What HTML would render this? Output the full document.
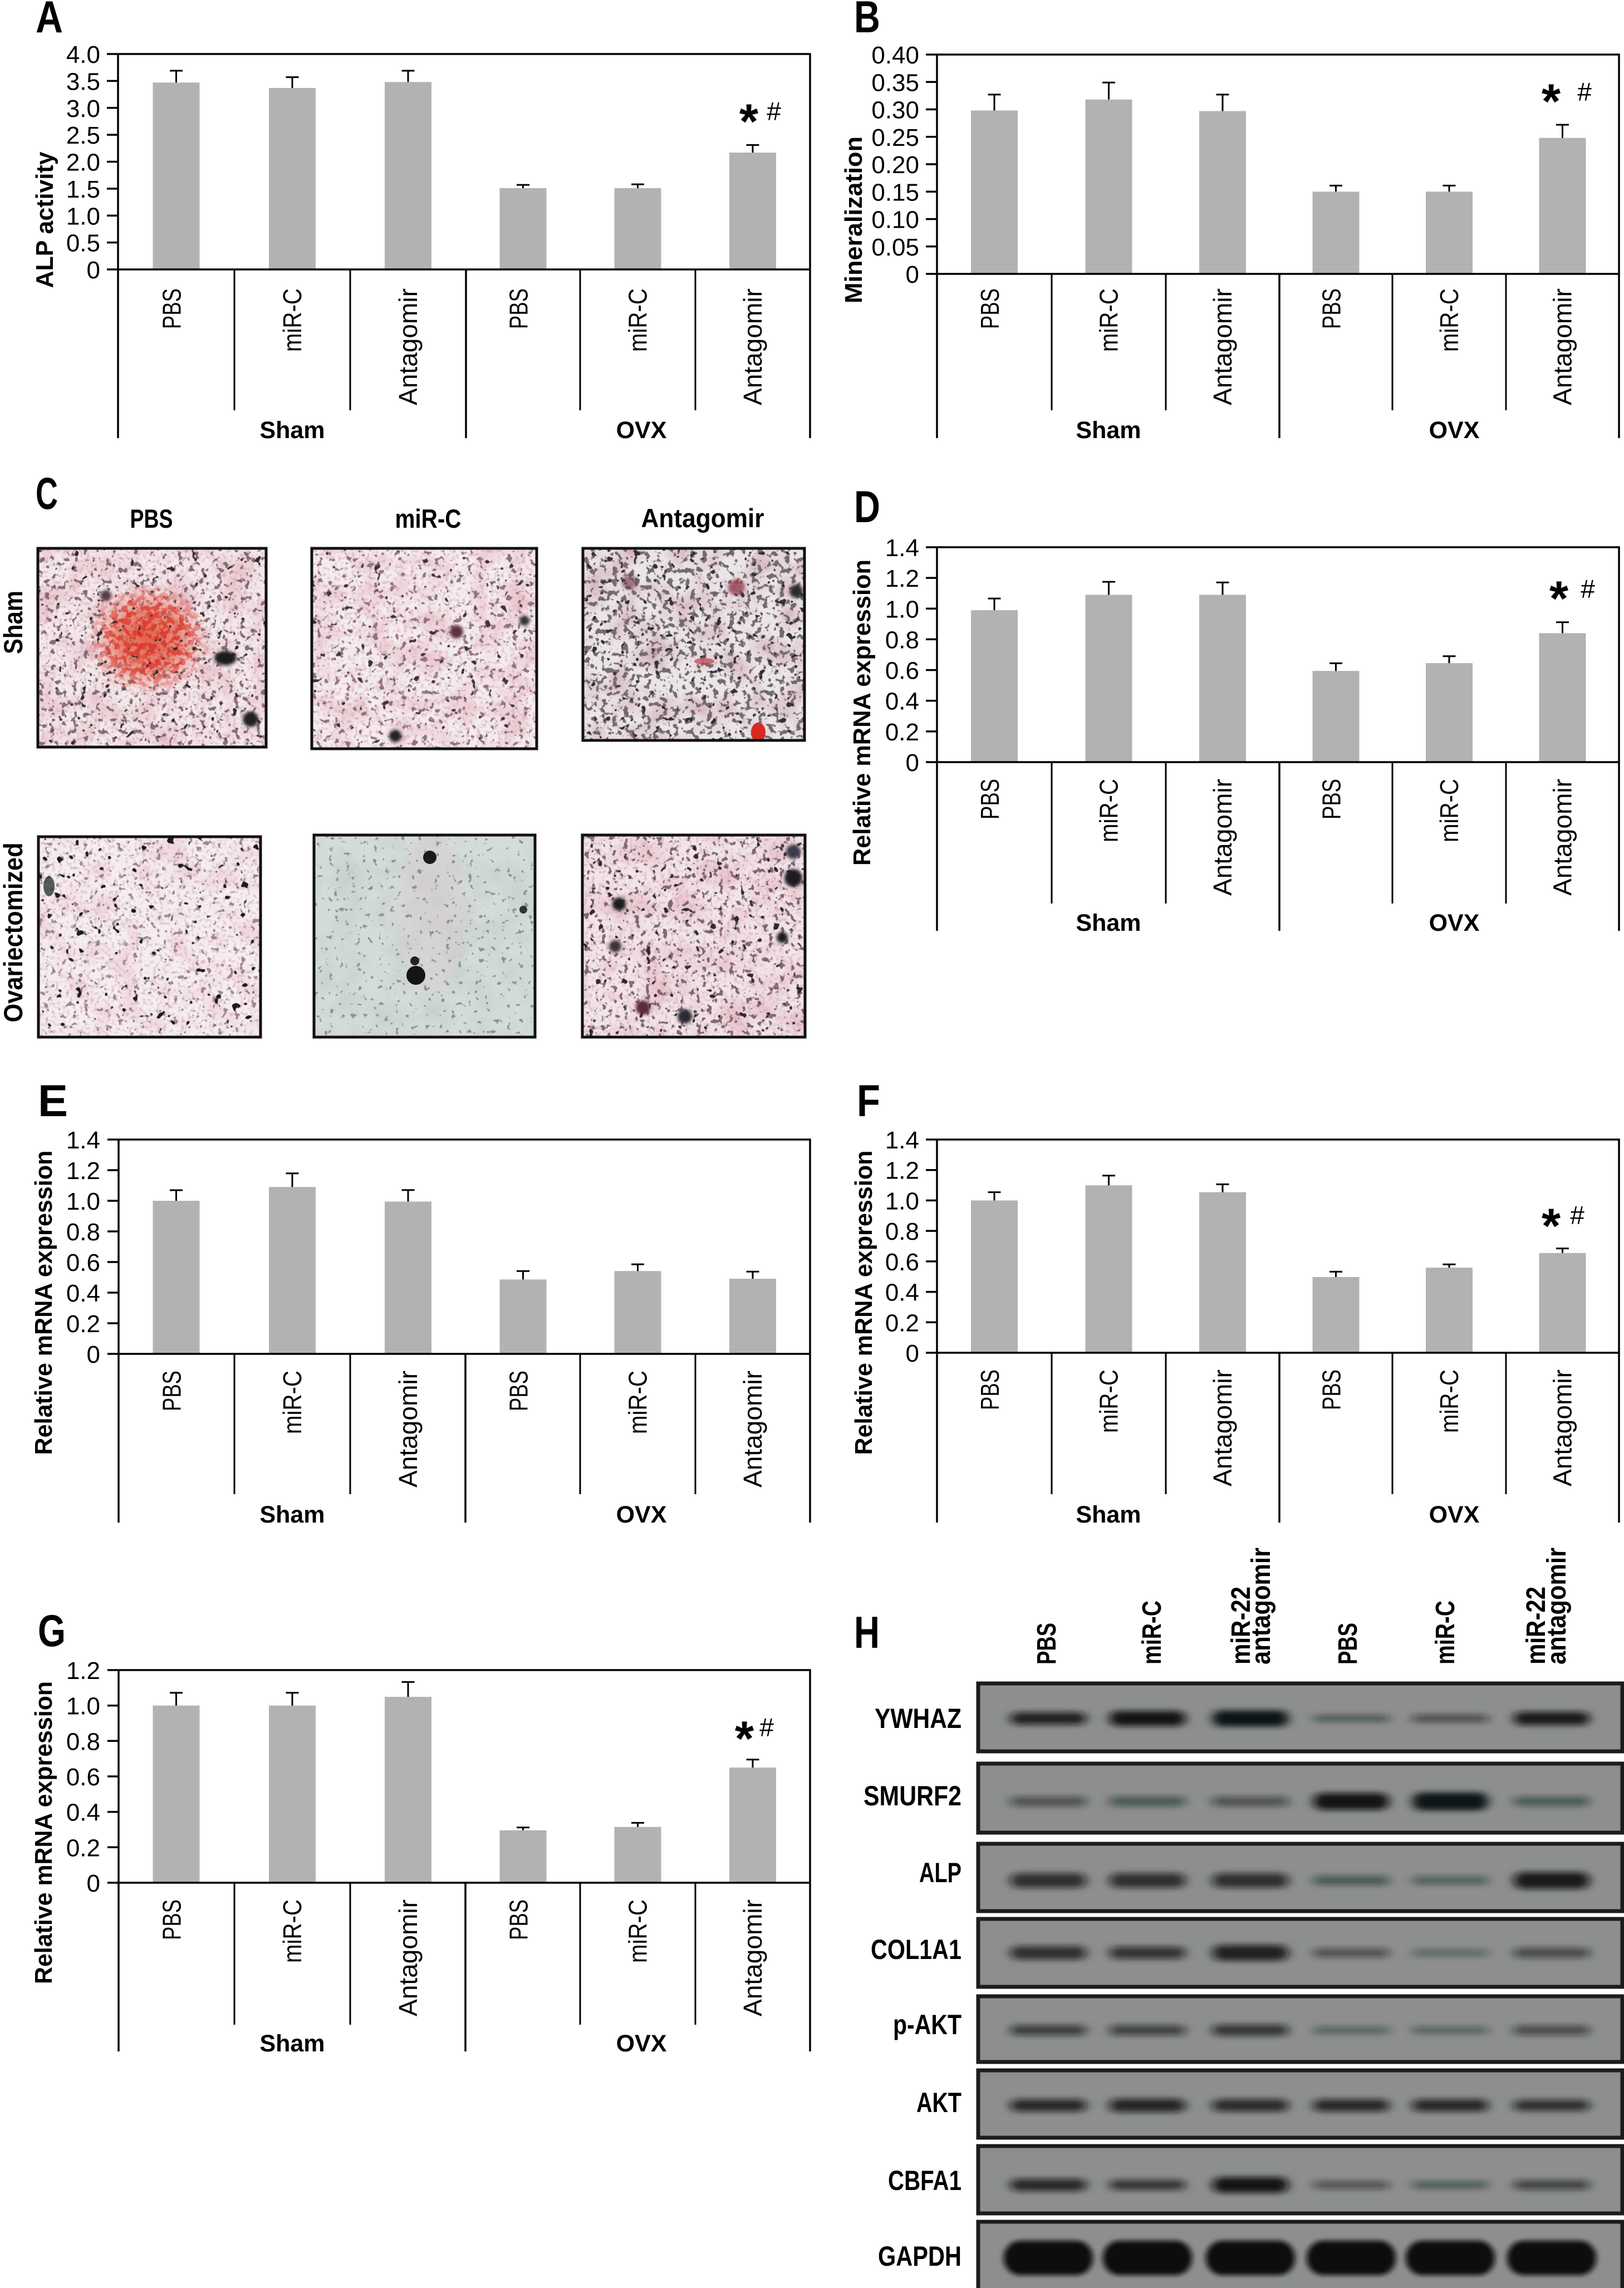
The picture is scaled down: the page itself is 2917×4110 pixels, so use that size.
<!DOCTYPE html>
<html><head><meta charset="utf-8"><style>
html,body{margin:0;padding:0;background:#fff;}
svg{display:block;}
.ax{stroke:#000;stroke-width:3.5;fill:none;}
.sp{stroke:#000;stroke-width:3;fill:none;}
.eb{stroke:#000;stroke-width:3;fill:none;}
.bar{fill:#b2b2b2;}
.tk{font-family:"Liberation Sans",sans-serif;font-size:44px;text-anchor:end;fill:#000;}
.cat{font-family:"Liberation Sans",sans-serif;font-size:46px;text-anchor:end;fill:#000;}
.yt{font-family:"Liberation Sans",sans-serif;font-weight:bold;font-size:44px;text-anchor:middle;fill:#000;}
.grp{font-family:"Liberation Sans",sans-serif;font-weight:bold;font-size:43px;text-anchor:middle;fill:#000;}
.lt{font-family:"Liberation Sans",sans-serif;font-weight:bold;font-size:81px;fill:#000;}
.st{font-family:"Liberation Sans",sans-serif;font-weight:bold;font-size:88px;text-anchor:middle;fill:#000;}
.hs{font-family:"Liberation Sans",sans-serif;font-size:46px;text-anchor:middle;fill:#000;}
.hd{font-family:"Liberation Sans",sans-serif;font-weight:bold;font-size:47px;text-anchor:middle;fill:#000;}
.rl{font-family:"Liberation Sans",sans-serif;font-weight:bold;font-size:50px;text-anchor:end;fill:#000;}
.ll{font-family:"Liberation Sans",sans-serif;font-weight:bold;font-size:48px;text-anchor:start;fill:#000;}
</style></head><body>
<svg width="2917" height="4110" viewBox="0 0 2917 4110" xmlns="http://www.w3.org/2000/svg">
<defs>
<filter id="mot1" x="0" y="0" width="1" height="1" color-interpolation-filters="sRGB"><feTurbulence type="fractalNoise" baseFrequency="0.02" numOctaves="3" seed="5"/><feColorMatrix type="matrix" values="0 0 0 0 0.88 0 0 0 0 0.6 0 0 0 0 0.66 1.2 0 0 0 -0.5"/></filter>
<filter id="mot4" x="0" y="0" width="1" height="1" color-interpolation-filters="sRGB"><feTurbulence type="fractalNoise" baseFrequency="0.02" numOctaves="3" seed="6"/><feColorMatrix type="matrix" values="0 0 0 0 0.9 0 0 0 0 0.66 0 0 0 0 0.72 1.0 0 0 0 -0.45"/></filter>
<filter id="mot2" x="0" y="0" width="1" height="1" color-interpolation-filters="sRGB"><feTurbulence type="fractalNoise" baseFrequency="0.02" numOctaves="3" seed="11"/><feColorMatrix type="matrix" values="0 0 0 0 0.88 0 0 0 0 0.62 0 0 0 0 0.68 1.2 0 0 0 -0.5"/></filter>
<filter id="motG" x="0" y="0" width="1" height="1" color-interpolation-filters="sRGB"><feTurbulence type="fractalNoise" baseFrequency="0.02" numOctaves="3" seed="21"/><feColorMatrix type="matrix" values="0 0 0 0 0.8 0 0 0 0 0.62 0 0 0 0 0.68 1.5 0 0 0 -0.6"/></filter>
<filter id="motB" x="0" y="0" width="1" height="1" color-interpolation-filters="sRGB"><feTurbulence type="fractalNoise" baseFrequency="0.02" numOctaves="3" seed="31"/><feColorMatrix type="matrix" values="0 0 0 0 0.76 0 0 0 0 0.8 0 0 0 0 0.79 1.6 0 0 0 -0.6"/></filter>
<filter id="grain" x="0" y="0" width="1" height="1" color-interpolation-filters="sRGB"><feTurbulence type="fractalNoise" baseFrequency="0.16" numOctaves="1" seed="3"/><feColorMatrix type="matrix" values="0 0 0 0 0.82 0 0 0 0 0.66 0 0 0 0 0.7 2.5 0 0 0 -1.25"/></filter>
<filter id="m1" x="0" y="0" width="1" height="1" color-interpolation-filters="sRGB"><feTurbulence type="fractalNoise" baseFrequency="0.1" numOctaves="2" seed="2"/><feColorMatrix type="matrix" values="0 0 0 0 0.52 0 0 0 0 0.42 0 0 0 0 0.47 -12 0 0 0 4.8"/></filter>
<filter id="d1" x="0" y="0" width="1" height="1" color-interpolation-filters="sRGB"><feTurbulence type="fractalNoise" baseFrequency="0.07" numOctaves="2" seed="4"/><feColorMatrix type="matrix" values="0 0 0 0 0.2 0 0 0 0 0.17 0 0 0 0 0.2 -16 0 0 0 4.8"/></filter>
<filter id="m2" x="0" y="0" width="1" height="1" color-interpolation-filters="sRGB"><feTurbulence type="fractalNoise" baseFrequency="0.1" numOctaves="2" seed="8"/><feColorMatrix type="matrix" values="0 0 0 0 0.58 0 0 0 0 0.45 0 0 0 0 0.5 -12 0 0 0 4.6"/></filter>
<filter id="d2" x="0" y="0" width="1" height="1" color-interpolation-filters="sRGB"><feTurbulence type="fractalNoise" baseFrequency="0.07" numOctaves="2" seed="9"/><feColorMatrix type="matrix" values="0 0 0 0 0.25 0 0 0 0 0.2 0 0 0 0 0.23 -16 0 0 0 4.7"/></filter>
<filter id="m3" x="0" y="0" width="1" height="1" color-interpolation-filters="sRGB"><feTurbulence type="fractalNoise" baseFrequency="0.1" numOctaves="2" seed="13"/><feColorMatrix type="matrix" values="0 0 0 0 0.45 0 0 0 0 0.42 0 0 0 0 0.44 -12 0 0 0 5.4"/></filter>
<filter id="d3" x="0" y="0" width="1" height="1" color-interpolation-filters="sRGB"><feTurbulence type="fractalNoise" baseFrequency="0.08" numOctaves="2" seed="14"/><feColorMatrix type="matrix" values="0 0 0 0 0.2 0 0 0 0 0.19 0 0 0 0 0.2 -16 0 0 0 5.3"/></filter>
<filter id="m4" x="0" y="0" width="1" height="1" color-interpolation-filters="sRGB"><feTurbulence type="fractalNoise" baseFrequency="0.1" numOctaves="2" seed="17"/><feColorMatrix type="matrix" values="0 0 0 0 0.62 0 0 0 0 0.52 0 0 0 0 0.56 -12 0 0 0 4.4"/></filter>
<filter id="d4" x="0" y="0" width="1" height="1" color-interpolation-filters="sRGB"><feTurbulence type="fractalNoise" baseFrequency="0.06" numOctaves="2" seed="18"/><feColorMatrix type="matrix" values="0 0 0 0 0.1 0 0 0 0 0.1 0 0 0 0 0.1 -20 0 0 0 5.8"/></filter>
<filter id="m5" x="0" y="0" width="1" height="1" color-interpolation-filters="sRGB"><feTurbulence type="fractalNoise" baseFrequency="0.1" numOctaves="2" seed="23"/><feColorMatrix type="matrix" values="0 0 0 0 0.55 0 0 0 0 0.58 0 0 0 0 0.57 -12 0 0 0 4.0"/></filter>
<filter id="m6" x="0" y="0" width="1" height="1" color-interpolation-filters="sRGB"><feTurbulence type="fractalNoise" baseFrequency="0.1" numOctaves="2" seed="29"/><feColorMatrix type="matrix" values="0 0 0 0 0.5 0 0 0 0 0.4 0 0 0 0 0.45 -12 0 0 0 4.8"/></filter>
<filter id="d6" x="0" y="0" width="1" height="1" color-interpolation-filters="sRGB"><feTurbulence type="fractalNoise" baseFrequency="0.07" numOctaves="2" seed="30"/><feColorMatrix type="matrix" values="0 0 0 0 0.18 0 0 0 0 0.16 0 0 0 0 0.19 -16 0 0 0 4.9"/></filter>
<filter id="redspk" x="0" y="0" width="1" height="1" color-interpolation-filters="sRGB"><feTurbulence type="fractalNoise" baseFrequency="0.09" numOctaves="2" seed="7"/><feColorMatrix type="matrix" values="0 0 0 0 0.86 0 0 0 0 0.22 0 0 0 0 0.18 8 0 0 0 -3.6"/></filter>
<filter id="bl" x="-0.3" y="-2" width="1.6" height="5"><feGaussianBlur stdDeviation="9 5"/></filter>
<filter id="bl2" x="-0.3" y="-1" width="1.6" height="3"><feGaussianBlur stdDeviation="5 4"/></filter>
<filter id="sb" x="-1" y="-1" width="3" height="3"><feGaussianBlur stdDeviation="3"/></filter>
<filter id="sb8" x="-1" y="-1" width="3" height="3"><feGaussianBlur stdDeviation="10"/></filter>
<radialGradient id="rb" cx="0.5" cy="0.5" r="0.5"><stop offset="0" stop-color="#e4553c" stop-opacity="0.9"/><stop offset="0.55" stop-color="#e66a52" stop-opacity="0.7"/><stop offset="1" stop-color="#ee9a90" stop-opacity="0"/></radialGradient>
<radialGradient id="rbw" cx="0.5" cy="0.5" r="0.5"><stop offset="0" stop-color="#fff"/><stop offset="0.6" stop-color="#bbb"/><stop offset="1" stop-color="#000"/></radialGradient>
<mask id="mb" maskUnits="userSpaceOnUse" x="0" y="900" width="600" height="500"><ellipse cx="267" cy="1148" rx="115" ry="105" fill="url(#rbw)"/></mask>
<clipPath id="c1"><rect x="68" y="985" width="410" height="357"/></clipPath>
<clipPath id="c3"><rect x="1047" y="985" width="398" height="345"/></clipPath>
<clipPath id="c5"><rect x="564" y="1500" width="397" height="363"/></clipPath>
<clipPath id="c6"><rect x="1046" y="1500" width="400" height="363"/></clipPath>
</defs>
<rect x="0" y="0" width="2917" height="4110" fill="#fff"/>

<!-- ============ PANEL A ============ -->
<text class="lt" x="64" y="58" textLength="49" lengthAdjust="spacingAndGlyphs">A</text>
<rect class="bar" x="274.5" y="148.3" width="84" height="335.7"/>
<rect class="bar" x="483" y="158" width="84" height="326"/>
<rect class="bar" x="691" y="147.3" width="84" height="336.7"/>
<rect class="bar" x="897.5" y="337.9" width="84" height="146.1"/>
<rect class="bar" x="1103.5" y="337.9" width="84" height="146.1"/>
<rect class="bar" x="1310" y="274.1" width="84" height="209.9"/>
<path class="eb" d="M316.5 148.3V127M305 127H328M525 158V138.6M513.5 138.6H536.5M733 147.3V127M721.5 127H744.5M939.5 337.9V332.1M928 332.1H951M1145.5 337.9V331.1M1134 331.1H1157M1352 274.1V260.5M1340.5 260.5H1363.5"/>
<path class="ax" d="M192 97H1455V787M192 484H1455M212 97V787M837 484V787M192 435.6H212M192 387.3H212M192 338.9H212M192 290.5H212M192 242.1H212M192 193.8H212M192 145.4H212"/>
<path class="sp" d="M421 484V737M629 484V737M1042 484V737M1249 484V737"/>
<text class="tk" x="180" y="500">0</text>
<text class="tk" x="180" y="451.6">0.5</text>
<text class="tk" x="180" y="403.3">1.0</text>
<text class="tk" x="180" y="354.9">1.5</text>
<text class="tk" x="180" y="306.5">2.0</text>
<text class="tk" x="180" y="258.1">2.5</text>
<text class="tk" x="180" y="209.8">3.0</text>
<text class="tk" x="180" y="161.4">3.5</text>
<text class="tk" x="180" y="113">4.0</text>
<text class="cat" transform="translate(324.5,518) rotate(-90)" textLength="73" lengthAdjust="spacingAndGlyphs">PBS</text>
<text class="cat" transform="translate(541,518) rotate(-90)" textLength="114" lengthAdjust="spacingAndGlyphs">miR-C</text>
<text class="cat" transform="translate(749,518) rotate(-90)" textLength="210" lengthAdjust="spacingAndGlyphs">Antagomir</text>
<text class="cat" transform="translate(947.5,518) rotate(-90)" textLength="73" lengthAdjust="spacingAndGlyphs">PBS</text>
<text class="cat" transform="translate(1161.5,518) rotate(-90)" textLength="114" lengthAdjust="spacingAndGlyphs">miR-C</text>
<text class="cat" transform="translate(1368,518) rotate(-90)" textLength="210" lengthAdjust="spacingAndGlyphs">Antagomir</text>
<text class="grp" x="525" y="787">Sham</text>
<text class="grp" x="1152" y="787">OVX</text>
<text class="yt" transform="translate(95,395) rotate(-90)" textLength="245" lengthAdjust="spacingAndGlyphs">ALP activity</text>
<text class="st" x="1345" y="248">*</text>
<text class="hs" x="1390" y="216">#</text>

<!-- ============ PANEL B ============ -->
<text class="lt" x="1534" y="58" textLength="47" lengthAdjust="spacingAndGlyphs">B</text>
<rect class="bar" x="1744" y="198.5" width="84" height="293.5"/>
<rect class="bar" x="1949.5" y="178.8" width="84" height="313.2"/>
<rect class="bar" x="2154" y="199.5" width="84" height="292.5"/>
<rect class="bar" x="2357.5" y="344.25" width="84" height="147.75"/>
<rect class="bar" x="2561" y="344.25" width="84" height="147.75"/>
<rect class="bar" x="2764.5" y="247.7" width="84" height="244.3"/>
<path class="eb" d="M1786 198.5V169.9M1774.5 169.9H1797.5M1991.5 178.8V148.2M1980 148.2H2003M2196 199.5V169.9M2184.5 169.9H2207.5M2399.5 344.25V333.4M2388 333.4H2411M2603 344.25V333.4M2591.5 333.4H2614.5M2806.5 247.7V224.1M2795 224.1H2818"/>
<path class="ax" d="M1663 98H2908V787M1663 492H2908M1683 98V787M2298 492V787M1663 442.75H1683M1663 393.5H1683M1663 344.25H1683M1663 295H1683M1663 245.75H1683M1663 196.5H1683M1663 147.25H1683"/>
<path class="sp" d="M1889 492V737M2094 492V737M2501 492V737M2705 492V737"/>
<text class="tk" x="1651" y="508">0</text>
<text class="tk" x="1651" y="458.75">0.05</text>
<text class="tk" x="1651" y="409.5">0.10</text>
<text class="tk" x="1651" y="360.25">0.15</text>
<text class="tk" x="1651" y="311">0.20</text>
<text class="tk" x="1651" y="261.75">0.25</text>
<text class="tk" x="1651" y="212.5">0.30</text>
<text class="tk" x="1651" y="163.25">0.35</text>
<text class="tk" x="1651" y="114">0.40</text>
<text class="cat" transform="translate(1794,518) rotate(-90)" textLength="73" lengthAdjust="spacingAndGlyphs">PBS</text>
<text class="cat" transform="translate(2007.5,518) rotate(-90)" textLength="114" lengthAdjust="spacingAndGlyphs">miR-C</text>
<text class="cat" transform="translate(2212,518) rotate(-90)" textLength="210" lengthAdjust="spacingAndGlyphs">Antagomir</text>
<text class="cat" transform="translate(2407.5,518) rotate(-90)" textLength="73" lengthAdjust="spacingAndGlyphs">PBS</text>
<text class="cat" transform="translate(2619,518) rotate(-90)" textLength="114" lengthAdjust="spacingAndGlyphs">miR-C</text>
<text class="cat" transform="translate(2822.5,518) rotate(-90)" textLength="210" lengthAdjust="spacingAndGlyphs">Antagomir</text>
<text class="grp" x="1991" y="787">Sham</text>
<text class="grp" x="2612" y="787">OVX</text>
<text class="yt" transform="translate(1548,395) rotate(-90)" textLength="300" lengthAdjust="spacingAndGlyphs">Mineralization</text>
<text class="st" x="2786" y="212">*</text>
<text class="hs" x="2846" y="181">#</text>

<!-- ============ PANEL C ============ -->
<text class="lt" x="64" y="914" textLength="40" lengthAdjust="spacingAndGlyphs">C</text>
<text class="hd" x="272" y="948" textLength="77" lengthAdjust="spacingAndGlyphs">PBS</text>
<text class="hd" x="769" y="948" textLength="119" lengthAdjust="spacingAndGlyphs">miR-C</text>
<text class="hd" x="1262" y="947" textLength="221" lengthAdjust="spacingAndGlyphs">Antagomir</text>
<text class="hd" transform="translate(40,1118) rotate(-90)" textLength="114" lengthAdjust="spacingAndGlyphs">Sham</text>
<text class="hd" transform="translate(40,1675) rotate(-90)" textLength="323" lengthAdjust="spacingAndGlyphs">Ovariectomized</text>

<!-- Photo 1 -->
<g clip-path="url(#c1)">
<rect x="68" y="985" width="410" height="357" fill="#f3e9eb"/>
<rect x="68" y="985" width="410" height="357" filter="url(#mot1)"/>
<rect x="68" y="985" width="410" height="357" filter="url(#grain)"/>
<rect x="68" y="985" width="410" height="357" filter="url(#m1)"/>
<ellipse cx="267" cy="1148" rx="105" ry="95" fill="url(#rb)"/>
<rect x="140" y="1030" width="260" height="240" filter="url(#redspk)" mask="url(#mb)"/>
<rect x="68" y="985" width="410" height="357" filter="url(#d1)"/>
<ellipse cx="405" cy="1182" rx="20" ry="13" fill="#1e1e1e" filter="url(#sb)"/>
<circle cx="450" cy="1292" r="14" fill="#222" filter="url(#sb)"/>
<circle cx="190" cy="1070" r="10" fill="#5a3a48" filter="url(#sb)"/>
</g>
<rect x="68" y="985" width="410" height="357" fill="none" stroke="#111" stroke-width="5"/>

<!-- Photo 2 -->
<rect x="560" y="985" width="404" height="360" fill="#f4ecee"/>
<rect x="560" y="985" width="404" height="360" filter="url(#mot2)"/>
<rect x="560" y="985" width="404" height="360" filter="url(#grain)"/>
<rect x="560" y="985" width="404" height="360" filter="url(#m2)"/>
<rect x="560" y="985" width="404" height="360" filter="url(#d2)"/>
<circle cx="710" cy="1322" r="11" fill="#222" filter="url(#sb)"/>
<circle cx="942" cy="1115" r="9" fill="#333" filter="url(#sb)"/>
<circle cx="820" cy="1135" r="12" fill="#5a3040" filter="url(#sb)"/>
<rect x="560" y="985" width="404" height="360" fill="none" stroke="#111" stroke-width="5"/>

<!-- Photo 3 -->
<g clip-path="url(#c3)">
<rect x="1047" y="985" width="398" height="345" fill="#ebe5e7"/>
<rect x="1047" y="985" width="398" height="345" filter="url(#motG)"/>
<rect x="1047" y="985" width="398" height="345" filter="url(#m3)"/>
<rect x="1047" y="985" width="398" height="345" filter="url(#d3)"/>
<circle cx="1323" cy="1055" r="15" fill="#8a3045" opacity="0.75" filter="url(#sb)"/>
<circle cx="1130" cy="1045" r="14" fill="#6a3040" opacity="0.6" filter="url(#sb)"/>
<circle cx="1430" cy="1062" r="12" fill="#2a2a2a" filter="url(#sb)"/>
<ellipse cx="1362" cy="1315" rx="13" ry="17" fill="#d52a22"/>
<ellipse cx="1265" cy="1188" rx="18" ry="6" fill="#c04050" opacity="0.7"/>
</g>
<rect x="1047" y="985" width="398" height="345" fill="none" stroke="#111" stroke-width="5"/>

<!-- Photo 4 -->
<rect x="69" y="1503" width="399" height="360" fill="#f5eef0"/>
<rect x="69" y="1503" width="399" height="360" filter="url(#mot4)"/>
<rect x="69" y="1503" width="399" height="360" filter="url(#grain)"/>
<rect x="69" y="1503" width="399" height="360" filter="url(#m4)"/>
<rect x="69" y="1503" width="399" height="360" filter="url(#d4)"/>
<ellipse cx="88" cy="1592" rx="10" ry="18" fill="#2a3a38" opacity="0.8"/>
<rect x="69" y="1503" width="399" height="360" fill="none" stroke="#111" stroke-width="5"/>

<!-- Photo 5 -->
<g clip-path="url(#c5)">
<rect x="564" y="1500" width="397" height="363" fill="#d4dcd9"/>
<rect x="564" y="1500" width="397" height="363" filter="url(#motB)"/>
<ellipse cx="775" cy="1640" rx="60" ry="140" fill="#dcc4ca" opacity="0.35" filter="url(#sb8)"/>
<rect x="564" y="1500" width="397" height="363" filter="url(#m5)"/>
<circle cx="747" cy="1752" r="17" fill="#151515"/>
<circle cx="772" cy="1540" r="12" fill="#1a1a1a"/>
<circle cx="940" cy="1634" r="7" fill="#333"/>
<circle cx="745" cy="1726" r="8" fill="#222"/>
</g>
<rect x="564" y="1500" width="397" height="363" fill="none" stroke="#111" stroke-width="5"/>

<!-- Photo 6 -->
<g clip-path="url(#c6)">
<rect x="1046" y="1500" width="400" height="363" fill="#f1e5e8"/>
<rect x="1046" y="1500" width="400" height="363" filter="url(#mot2)"/>
<rect x="1046" y="1500" width="400" height="363" filter="url(#grain)"/>
<rect x="1046" y="1500" width="400" height="363" filter="url(#m6)"/>
<rect x="1046" y="1500" width="400" height="363" filter="url(#d6)"/>
<circle cx="1425" cy="1577" r="16" fill="#1c1c22" filter="url(#sb)"/>
<circle cx="1112" cy="1624" r="12" fill="#1c1c1c" filter="url(#sb)"/>
<circle cx="1405" cy="1684" r="10" fill="#1c1c1c" filter="url(#sb)"/>
<circle cx="1230" cy="1826" r="13" fill="#2a2a30" filter="url(#sb)"/>
<circle cx="1155" cy="1810" r="13" fill="#5a2a34" filter="url(#sb)"/>
<circle cx="1425" cy="1530" r="13" fill="#3a3a48" filter="url(#sb)"/>
<circle cx="1105" cy="1700" r="11" fill="#3a3038" filter="url(#sb)"/>
</g>
<rect x="1046" y="1500" width="400" height="363" fill="none" stroke="#111" stroke-width="5"/>

<!-- ============ PANEL D ============ -->
<text class="lt" x="1534" y="938" textLength="47" lengthAdjust="spacingAndGlyphs">D</text>
<rect class="bar" x="1744" y="1096.1" width="84" height="272.9"/>
<rect class="bar" x="1949.5" y="1068.5" width="84" height="300.5"/>
<rect class="bar" x="2154" y="1068.5" width="84" height="300.5"/>
<rect class="bar" x="2357.5" y="1205.2" width="84" height="163.8"/>
<rect class="bar" x="2561" y="1191.2" width="84" height="177.8"/>
<rect class="bar" x="2764.5" y="1137.4" width="84" height="231.6"/>
<path class="eb" d="M1786 1096.1V1075.1M1774.5 1075.1H1797.5M1991.5 1068.5V1045.1M1980 1045.1H2003M2196 1068.5V1046.2M2184.5 1046.2H2207.5M2399.5 1205.2V1191.5M2388 1191.5H2411M2603 1191.2V1178.8M2591.5 1178.8H2614.5M2806.5 1137.4V1117.8M2795 1117.8H2818"/>
<path class="ax" d="M1663 983H2908V1672M1663 1369H2908M1683 983V1672M2298 1369V1672M1663 1313.9H1683M1663 1258.7H1683M1663 1203.6H1683M1663 1148.4H1683M1663 1093.3H1683M1663 1038.1H1683"/>
<path class="sp" d="M1889 1369V1623M2094 1369V1623M2501 1369V1623M2705 1369V1623"/>
<text class="tk" x="1651" y="1385">0</text>
<text class="tk" x="1651" y="1329.9">0.2</text>
<text class="tk" x="1651" y="1274.7">0.4</text>
<text class="tk" x="1651" y="1219.6">0.6</text>
<text class="tk" x="1651" y="1164.4">0.8</text>
<text class="tk" x="1651" y="1109.3">1.0</text>
<text class="tk" x="1651" y="1054.1">1.2</text>
<text class="tk" x="1651" y="999">1.4</text>
<text class="cat" transform="translate(1794,1399) rotate(-90)" textLength="73" lengthAdjust="spacingAndGlyphs">PBS</text>
<text class="cat" transform="translate(2007.5,1399) rotate(-90)" textLength="114" lengthAdjust="spacingAndGlyphs">miR-C</text>
<text class="cat" transform="translate(2212,1399) rotate(-90)" textLength="210" lengthAdjust="spacingAndGlyphs">Antagomir</text>
<text class="cat" transform="translate(2407.5,1399) rotate(-90)" textLength="73" lengthAdjust="spacingAndGlyphs">PBS</text>
<text class="cat" transform="translate(2619,1399) rotate(-90)" textLength="114" lengthAdjust="spacingAndGlyphs">miR-C</text>
<text class="cat" transform="translate(2822.5,1399) rotate(-90)" textLength="210" lengthAdjust="spacingAndGlyphs">Antagomir</text>
<text class="grp" x="1991" y="1672">Sham</text>
<text class="grp" x="2612" y="1672">OVX</text>
<text class="yt" transform="translate(1563,1280) rotate(-90)" textLength="550" lengthAdjust="spacingAndGlyphs">Relative mRNA expression</text>
<text class="st" x="2800" y="1105">*</text>
<text class="hs" x="2852" y="1074">#</text>

<!-- ============ PANEL E ============ -->
<text class="lt" x="68" y="2005" textLength="54" lengthAdjust="spacingAndGlyphs">E</text>
<rect class="bar" x="274.5" y="2157" width="84" height="275"/>
<rect class="bar" x="483" y="2132.25" width="84" height="299.75"/>
<rect class="bar" x="691" y="2158.4" width="84" height="273.6"/>
<rect class="bar" x="897.5" y="2298.35" width="84" height="133.65"/>
<rect class="bar" x="1103.5" y="2283.2" width="84" height="148.8"/>
<rect class="bar" x="1310" y="2297" width="84" height="135"/>
<path class="eb" d="M316.5 2157V2138M305 2138H328M525 2132.25V2107.8M513.5 2107.8H536.5M733 2158.4V2137.75M721.5 2137.75H744.5M939.5 2298.35V2283.2M928 2283.2H951M1145.5 2283.2V2271.1M1134 2271.1H1157M1352 2297V2284.3M1340.5 2284.3H1363.5"/>
<path class="ax" d="M193 2047H1455V2735M193 2432H1455M213 2047V2735M836 2432V2735M193 2377H213M193 2322H213M193 2267H213M193 2212H213M193 2157H213M193 2102H213"/>
<path class="sp" d="M421 2432V2684M629 2432V2684M1042 2432V2684M1249 2432V2684"/>
<text class="tk" x="180" y="2448">0</text>
<text class="tk" x="180" y="2393">0.2</text>
<text class="tk" x="180" y="2338">0.4</text>
<text class="tk" x="180" y="2283">0.6</text>
<text class="tk" x="180" y="2228">0.8</text>
<text class="tk" x="180" y="2173">1.0</text>
<text class="tk" x="180" y="2118">1.2</text>
<text class="tk" x="180" y="2063">1.4</text>
<text class="cat" transform="translate(324.5,2462) rotate(-90)" textLength="73" lengthAdjust="spacingAndGlyphs">PBS</text>
<text class="cat" transform="translate(541,2462) rotate(-90)" textLength="114" lengthAdjust="spacingAndGlyphs">miR-C</text>
<text class="cat" transform="translate(749,2462) rotate(-90)" textLength="210" lengthAdjust="spacingAndGlyphs">Antagomir</text>
<text class="cat" transform="translate(947.5,2462) rotate(-90)" textLength="73" lengthAdjust="spacingAndGlyphs">PBS</text>
<text class="cat" transform="translate(1161.5,2462) rotate(-90)" textLength="114" lengthAdjust="spacingAndGlyphs">miR-C</text>
<text class="cat" transform="translate(1368,2462) rotate(-90)" textLength="210" lengthAdjust="spacingAndGlyphs">Antagomir</text>
<text class="grp" x="525" y="2735">Sham</text>
<text class="grp" x="1152" y="2735">OVX</text>
<text class="yt" transform="translate(93,2340) rotate(-90)" textLength="547" lengthAdjust="spacingAndGlyphs">Relative mRNA expression</text>

<!-- ============ PANEL F ============ -->
<text class="lt" x="1539" y="2005" textLength="42" lengthAdjust="spacingAndGlyphs">F</text>
<rect class="bar" x="1744" y="2156.4" width="84" height="273.6"/>
<rect class="bar" x="1949.5" y="2129.1" width="84" height="300.9"/>
<rect class="bar" x="2154" y="2141.6" width="84" height="288.4"/>
<rect class="bar" x="2357.5" y="2294" width="84" height="136"/>
<rect class="bar" x="2561" y="2277.1" width="84" height="152.9"/>
<rect class="bar" x="2764.5" y="2250.8" width="84" height="179.2"/>
<path class="eb" d="M1786 2156.4V2141.6M1774.5 2141.6H1797.5M1991.5 2129.1V2111.8M1980 2111.8H2003M2196 2141.6V2127.4M2184.5 2127.4H2207.5M2399.5 2294V2284.4M2388 2284.4H2411M2603 2277.1V2271.3M2591.5 2271.3H2614.5M2806.5 2250.8V2242.6M2795 2242.6H2818"/>
<path class="ax" d="M1663 2047H2908V2735M1663 2430H2908M1683 2047V2735M2298 2430V2735M1663 2375.3H1683M1663 2320.6H1683M1663 2265.9H1683M1663 2211.1H1683M1663 2156.4H1683M1663 2101.7H1683"/>
<path class="sp" d="M1889 2430V2684M2094 2430V2684M2501 2430V2684M2705 2430V2684"/>
<text class="tk" x="1651" y="2446">0</text>
<text class="tk" x="1651" y="2391.3">0.2</text>
<text class="tk" x="1651" y="2336.6">0.4</text>
<text class="tk" x="1651" y="2281.9">0.6</text>
<text class="tk" x="1651" y="2227.1">0.8</text>
<text class="tk" x="1651" y="2172.4">1.0</text>
<text class="tk" x="1651" y="2117.7">1.2</text>
<text class="tk" x="1651" y="2063">1.4</text>
<text class="cat" transform="translate(1794,2460) rotate(-90)" textLength="73" lengthAdjust="spacingAndGlyphs">PBS</text>
<text class="cat" transform="translate(2007.5,2460) rotate(-90)" textLength="114" lengthAdjust="spacingAndGlyphs">miR-C</text>
<text class="cat" transform="translate(2212,2460) rotate(-90)" textLength="210" lengthAdjust="spacingAndGlyphs">Antagomir</text>
<text class="cat" transform="translate(2407.5,2460) rotate(-90)" textLength="73" lengthAdjust="spacingAndGlyphs">PBS</text>
<text class="cat" transform="translate(2619,2460) rotate(-90)" textLength="114" lengthAdjust="spacingAndGlyphs">miR-C</text>
<text class="cat" transform="translate(2822.5,2460) rotate(-90)" textLength="210" lengthAdjust="spacingAndGlyphs">Antagomir</text>
<text class="grp" x="1991" y="2735">Sham</text>
<text class="grp" x="2612" y="2735">OVX</text>
<text class="yt" transform="translate(1566,2340) rotate(-90)" textLength="547" lengthAdjust="spacingAndGlyphs">Relative mRNA expression</text>
<text class="st" x="2786" y="2232">*</text>
<text class="hs" x="2833" y="2199">#</text>

<!-- ============ PANEL G ============ -->
<text class="lt" x="68" y="2957" textLength="50" lengthAdjust="spacingAndGlyphs">G</text>
<rect class="bar" x="274.5" y="3063.7" width="84" height="318.3"/>
<rect class="bar" x="483" y="3063.7" width="84" height="318.3"/>
<rect class="bar" x="691" y="3048.1" width="84" height="333.9"/>
<rect class="bar" x="897.5" y="3287.8" width="84" height="94.2"/>
<rect class="bar" x="1103.5" y="3281.7" width="84" height="100.3"/>
<rect class="bar" x="1310" y="3175.1" width="84" height="206.9"/>
<path class="eb" d="M316.5 3063.7V3040.8M305 3040.8H328M525 3063.7V3040.8M513.5 3040.8H536.5M733 3048.1V3021.4M721.5 3021.4H744.5M939.5 3287.8V3282.7M928 3282.7H951M1145.5 3281.7V3274.4M1134 3274.4H1157M1352 3175.1V3160.8M1340.5 3160.8H1363.5"/>
<path class="ax" d="M193 3000H1455V3685M193 3382H1455M213 3000V3685M836 3382V3685M193 3318.3H213M193 3254.7H213M193 3191H213M193 3127.3H213M193 3063.7H213"/>
<path class="sp" d="M421 3382V3637M629 3382V3637M1042 3382V3637M1249 3382V3637"/>
<text class="tk" x="180" y="3398">0</text>
<text class="tk" x="180" y="3334.3">0.2</text>
<text class="tk" x="180" y="3270.7">0.4</text>
<text class="tk" x="180" y="3207">0.6</text>
<text class="tk" x="180" y="3143.3">0.8</text>
<text class="tk" x="180" y="3079.7">1.0</text>
<text class="tk" x="180" y="3016">1.2</text>
<text class="cat" transform="translate(324.5,3412) rotate(-90)" textLength="73" lengthAdjust="spacingAndGlyphs">PBS</text>
<text class="cat" transform="translate(541,3412) rotate(-90)" textLength="114" lengthAdjust="spacingAndGlyphs">miR-C</text>
<text class="cat" transform="translate(749,3412) rotate(-90)" textLength="210" lengthAdjust="spacingAndGlyphs">Antagomir</text>
<text class="cat" transform="translate(947.5,3412) rotate(-90)" textLength="73" lengthAdjust="spacingAndGlyphs">PBS</text>
<text class="cat" transform="translate(1161.5,3412) rotate(-90)" textLength="114" lengthAdjust="spacingAndGlyphs">miR-C</text>
<text class="cat" transform="translate(1368,3412) rotate(-90)" textLength="210" lengthAdjust="spacingAndGlyphs">Antagomir</text>
<text class="grp" x="525" y="3685">Sham</text>
<text class="grp" x="1152" y="3685">OVX</text>
<text class="yt" transform="translate(93,3292) rotate(-90)" textLength="544" lengthAdjust="spacingAndGlyphs">Relative mRNA expression</text>
<text class="st" x="1337" y="3153">*</text>
<text class="hs" x="1377" y="3119">#</text>

<!-- ============ PANEL H ============ -->
<text class="lt" x="1534" y="2960" textLength="46" lengthAdjust="spacingAndGlyphs">H</text>
<text class="ll" transform="translate(1896,2990) rotate(-90)" textLength="75" lengthAdjust="spacingAndGlyphs">PBS</text>
<text class="ll" transform="translate(2085,2990) rotate(-90)" textLength="115" lengthAdjust="spacingAndGlyphs">miR-C</text>
<text class="ll" transform="translate(2245,2990) rotate(-90)" textLength="140" lengthAdjust="spacingAndGlyphs">miR-22</text>
<text class="ll" transform="translate(2281,2990) rotate(-90)" textLength="210" lengthAdjust="spacingAndGlyphs">antagomir</text>
<text class="ll" transform="translate(2437,2990) rotate(-90)" textLength="75" lengthAdjust="spacingAndGlyphs">PBS</text>
<text class="ll" transform="translate(2612,2990) rotate(-90)" textLength="115" lengthAdjust="spacingAndGlyphs">miR-C</text>
<text class="ll" transform="translate(2775,2990) rotate(-90)" textLength="140" lengthAdjust="spacingAndGlyphs">miR-22</text>
<text class="ll" transform="translate(2812,2990) rotate(-90)" textLength="210" lengthAdjust="spacingAndGlyphs">antagomir</text>

<text class="rl" x="1727" y="3104" textLength="156" lengthAdjust="spacingAndGlyphs">YWHAZ</text>
<text class="rl" x="1727" y="3243" textLength="176" lengthAdjust="spacingAndGlyphs">SMURF2</text>
<text class="rl" x="1727" y="3381" textLength="76" lengthAdjust="spacingAndGlyphs">ALP</text>
<text class="rl" x="1727" y="3519" textLength="163" lengthAdjust="spacingAndGlyphs">COL1A1</text>
<text class="rl" x="1727" y="3654" textLength="123" lengthAdjust="spacingAndGlyphs">p-AKT</text>
<text class="rl" x="1727" y="3794" textLength="81" lengthAdjust="spacingAndGlyphs">AKT</text>
<text class="rl" x="1727" y="3934" textLength="132" lengthAdjust="spacingAndGlyphs">CBFA1</text>
<text class="rl" x="1727" y="4070" textLength="150" lengthAdjust="spacingAndGlyphs">GAPDH</text>

<g fill="#8c8f8e" stroke="#1b1d1d" stroke-width="7">
<rect x="1757" y="3024" width="1157" height="122"/>
<rect x="1757" y="3168" width="1157" height="124"/>
<rect x="1757" y="3312" width="1157" height="121"/>
<rect x="1757" y="3447" width="1157" height="122"/>
<rect x="1757" y="3586" width="1157" height="118"/>
<rect x="1757" y="3719" width="1157" height="121"/>
<rect x="1757" y="3855" width="1157" height="121"/>
<rect x="1757" y="3991" width="1157" height="135"/>
</g>

<g fill="#0d1212" filter="url(#bl)">
<rect x="1815" y="3076" width="136" height="22" rx="11" opacity="0.85"/>
<rect x="1993" y="3073.5" width="136" height="27" rx="13" opacity="0.95"/>
<rect x="2178" y="3072.5" width="136" height="29" rx="14" opacity="1"/>
<rect x="2359" y="3081" width="136" height="12" rx="6" opacity="0.45"/>
<rect x="2537" y="3080.5" width="136" height="13" rx="6" opacity="0.55"/>
<rect x="2719" y="3075" width="136" height="24" rx="12" opacity="0.9"/>
<rect x="1815" y="3227.5" width="136" height="17" rx="8" opacity="0.5"/>
<rect x="1993" y="3227" width="136" height="18" rx="9" opacity="0.45"/>
<rect x="2178" y="3227.5" width="136" height="17" rx="8" opacity="0.5"/>
<rect x="2359" y="3221" width="136" height="30" rx="15" opacity="0.95"/>
<rect x="2537" y="3220" width="136" height="32" rx="16" opacity="1"/>
<rect x="2719" y="3227.5" width="136" height="17" rx="8" opacity="0.45"/>
<rect x="1815" y="3365" width="136" height="26" rx="13" opacity="0.75"/>
<rect x="1993" y="3365" width="136" height="26" rx="13" opacity="0.75"/>
<rect x="2178" y="3365" width="136" height="26" rx="13" opacity="0.75"/>
<rect x="2359" y="3369.5" width="136" height="17" rx="8" opacity="0.45"/>
<rect x="2537" y="3370.5" width="136" height="15" rx="7" opacity="0.4"/>
<rect x="2719" y="3363" width="136" height="30" rx="15" opacity="0.9"/>
<rect x="1815" y="3496" width="136" height="24" rx="12" opacity="0.75"/>
<rect x="1993" y="3497" width="136" height="22" rx="11" opacity="0.72"/>
<rect x="2178" y="3494" width="136" height="28" rx="14" opacity="0.85"/>
<rect x="2359" y="3500" width="136" height="16" rx="8" opacity="0.5"/>
<rect x="2537" y="3502" width="136" height="12" rx="6" opacity="0.35"/>
<rect x="2719" y="3499" width="136" height="18" rx="9" opacity="0.55"/>
<rect x="1815" y="3638" width="136" height="18" rx="9" opacity="0.65"/>
<rect x="1993" y="3638" width="136" height="18" rx="9" opacity="0.62"/>
<rect x="2178" y="3637" width="136" height="20" rx="10" opacity="0.7"/>
<rect x="2359" y="3640.5" width="136" height="13" rx="6" opacity="0.38"/>
<rect x="2537" y="3640.5" width="136" height="13" rx="6" opacity="0.38"/>
<rect x="2719" y="3638.5" width="136" height="17" rx="8" opacity="0.55"/>
<rect x="1815" y="3771" width="136" height="22" rx="11" opacity="0.8"/>
<rect x="1993" y="3770" width="136" height="24" rx="12" opacity="0.82"/>
<rect x="2178" y="3771" width="136" height="22" rx="11" opacity="0.78"/>
<rect x="2359" y="3771" width="136" height="22" rx="11" opacity="0.8"/>
<rect x="2537" y="3771" width="136" height="22" rx="11" opacity="0.8"/>
<rect x="2719" y="3772" width="136" height="20" rx="10" opacity="0.75"/>
<rect x="1815" y="3914" width="136" height="22" rx="11" opacity="0.8"/>
<rect x="1993" y="3916" width="136" height="18" rx="9" opacity="0.72"/>
<rect x="2178" y="3911" width="136" height="28" rx="14" opacity="0.95"/>
<rect x="2359" y="3918" width="136" height="14" rx="7" opacity="0.5"/>
<rect x="2537" y="3918.5" width="136" height="13" rx="6" opacity="0.45"/>
<rect x="2719" y="3916.5" width="136" height="17" rx="8" opacity="0.6"/>
</g>
<g fill="#0b0f0f" filter="url(#bl2)">
<rect x="1803" y="4025" width="160" height="62" rx="30"/>
<rect x="1981" y="4025" width="160" height="62" rx="30"/>
<rect x="2166" y="4025" width="160" height="62" rx="30"/>
<rect x="2347" y="4025" width="160" height="62" rx="30"/>
<rect x="2525" y="4025" width="160" height="62" rx="30"/>
<rect x="2707" y="4025" width="160" height="62" rx="30"/>
</g>
</svg>
</body></html>
